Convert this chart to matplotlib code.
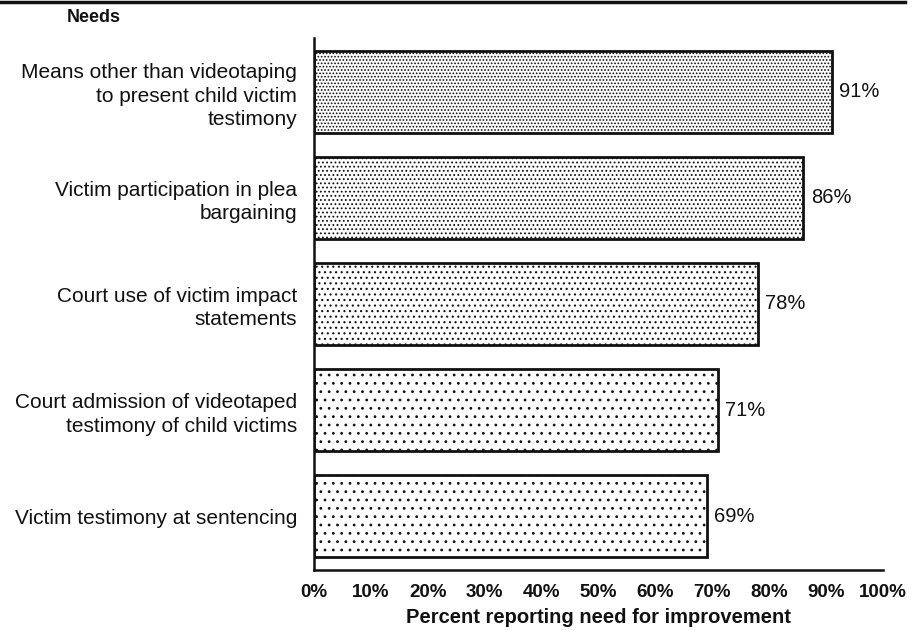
import matplotlib
matplotlib.use('Agg')
import matplotlib.pyplot as plt
from matplotlib.lines import Line2D
import numpy as np

plt.rcParams['font.family'] = ['Liberation Sans', 'DejaVu Sans']
plt.rcParams['hatch.linewidth'] = 0.8
plt.rcParams['hatch.color'] = '#333333'

# data
needs = ['Means other than videotaping\nto present child victim\ntestimony',
         'Victim participation in plea\nbargaining',
         'Court use of victim impact\nstatements',
         'Court admission of videotaped\ntestimony of child victims',
         'Victim testimony at sentencing']
percent = [91, 86, 78, 71, 69]
ticks = [0, 10, 20, 30, 40, 50, 60, 70, 80, 90, 100]
tick_labels = ['0%', '10%', '20%', '30%', '40%', '50%', '60%', '70%', '80%', '90%', '100%']

# speckle density of each bar (scan look)
hatches = ['.....', '....', '...', '..', '..']

fig = plt.figure(figsize=(9.14, 6.3), dpi=100)
ax = fig.add_axes([0.3435, 0.095, 0.6225, 0.845])

pos = np.arange(len(needs))
for i in range(len(needs)):
    ax.barh(pos[i], percent[i], height=0.77, color='white', edgecolor='#111111',
            linewidth=2, hatch=hatches[i])
    ax.text(percent[i] + 1.3, pos[i], f'{percent[i]}%', va='center', ha='left',
            fontsize=14.5, color='#111111')

ax.set_xlim(0, 100)
ax.set_ylim(4.51, -0.51)
ax.set_yticks(pos)
ax.set_yticklabels(needs, fontsize=15, color='#111111', linespacing=1.3)
ax.set_xticks(ticks)
ax.set_xticklabels(tick_labels, fontsize=13.5, fontweight='bold', color='#111111')
ax.tick_params(axis='y', length=0, pad=12)
ax.tick_params(axis='x', length=0, pad=10)
ax.set_xlabel('Percent reporting need for improvement', fontsize=14.5,
              fontweight='bold', color='#111111', labelpad=5)
for s in ['top', 'right']:
    ax.spines[s].set_visible(False)
for s in ['left', 'bottom']:
    ax.spines[s].set_linewidth(1.8)
    ax.spines[s].set_color('#111111')

fig.text(0.103, 0.973, 'Needs', ha='center', va='center', fontsize=13,
         fontweight='bold', color='#111111')
fig.add_artist(Line2D([0.0, 0.99], [0.997, 0.997], color='#111111', linewidth=2.5,
                      transform=fig.transFigure))

fig.savefig('out.png', dpi=100)
